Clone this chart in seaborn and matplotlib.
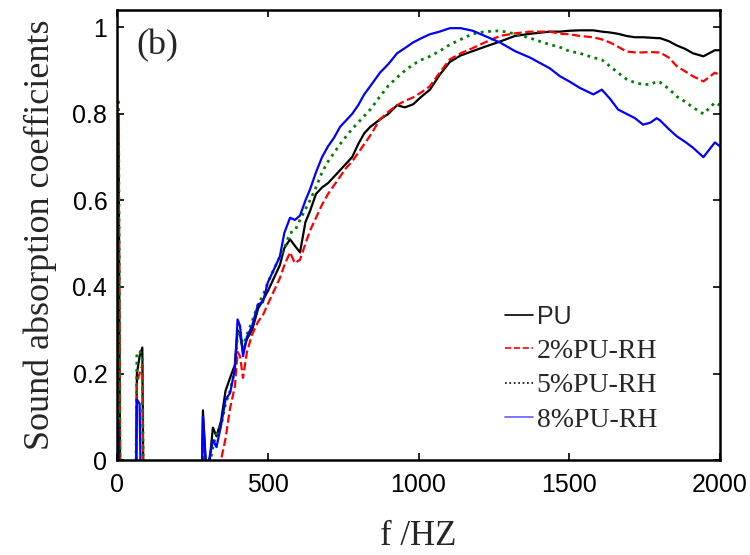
import pandas as pd
import seaborn as sns
import matplotlib.pyplot as plt
from matplotlib.lines import Line2D

# frequency grid (Hz) shared by all four samples
freq = [5, 12, 60, 66, 75, 84, 90, 275, 285, 298, 305, 318, 330, 345, 360, 375, 391,
        400, 408, 418, 431, 448, 468, 484, 500, 520, 540, 555, 574, 590, 607, 625,
        640, 660, 680, 700, 720, 740, 760, 780, 800, 820, 840, 872, 900, 929, 955,
        982, 1010, 1038, 1070, 1104, 1140, 1180, 1220, 1270, 1320, 1370, 1436, 1469,
        1500, 1535, 1580, 1608, 1635, 1662, 1690, 1718, 1745, 1770, 1790, 1801,
        1830, 1857, 1885, 1910, 1945, 1983, 2000]

pu = [0.80, -0.3, -0.3, 0.20, 0.24, 0.26, -0.3, -0.3, 0.115, -0.05, -0.02, 0.075, 0.055,
      0.09, 0.16, 0.19, 0.22, 0.30, 0.29, 0.25, 0.28, 0.30, 0.35, 0.37, 0.39, 0.42,
      0.45, 0.49, 0.51, 0.495, 0.48, 0.55, 0.575, 0.615, 0.63, 0.64, 0.655, 0.67,
      0.685, 0.70, 0.73, 0.755, 0.77, 0.787, 0.80, 0.82, 0.815, 0.822, 0.84, 0.856,
      0.89, 0.92, 0.935, 0.945, 0.955, 0.967, 0.98, 0.985, 0.99, 0.99, 0.992, 0.993,
      0.993, 0.99, 0.988, 0.985, 0.98, 0.977, 0.977, 0.976, 0.975, 0.975, 0.968,
      0.958, 0.95, 0.94, 0.933, 0.947, 0.947]

pu_rh2 = [0.78, -0.3, -0.3, 0.18, 0.20, 0.22, -0.3, -0.3, -0.1, -0.2, -0.2, -0.1, -0.05,
          0.0, 0.05, 0.12, 0.17, 0.25, 0.24, 0.19, 0.25, 0.29, 0.32, 0.335, 0.36, 0.39,
          0.42, 0.45, 0.48, 0.455, 0.463, 0.50, 0.53, 0.56, 0.59, 0.615, 0.635, 0.655,
          0.675, 0.69, 0.71, 0.73, 0.75, 0.787, 0.805, 0.82, 0.83, 0.838, 0.85, 0.864,
          0.895, 0.926, 0.94, 0.952, 0.965, 0.98, 0.986, 0.99, 0.99, 0.985, 0.984, 0.98,
          0.977, 0.972, 0.965, 0.955, 0.944, 0.942, 0.942, 0.943, 0.942, 0.942, 0.93,
          0.91, 0.898, 0.887, 0.875, 0.895, 0.89]

pu_rh5 = [0.83, -0.3, -0.3, 0.25, 0.25, 0.24, -0.3, -0.3, 0.03, -0.05, -0.02, 0.03, 0.06,
          0.08, 0.13, 0.16, 0.21, 0.29, 0.30, 0.26, 0.29, 0.32, 0.36, 0.38, 0.41, 0.44,
          0.47, 0.49, 0.525, 0.53, 0.555, 0.58, 0.60, 0.63, 0.665, 0.69, 0.71, 0.73,
          0.748, 0.765, 0.78, 0.795, 0.81, 0.84, 0.865, 0.884, 0.90, 0.914, 0.925, 0.933,
          0.945, 0.96, 0.972, 0.985, 0.99, 0.992, 0.985, 0.975, 0.96, 0.954, 0.945, 0.94,
          0.93, 0.925, 0.91, 0.895, 0.88, 0.872, 0.868, 0.868, 0.875, 0.873, 0.858,
          0.84, 0.828, 0.815, 0.80, 0.826, 0.82]

pu_rh8 = [0.09, -0.3, -0.3, 0.14, 0.13, -0.3, -0.3, -0.3, 0.10, -0.05, 0.0, 0.046, 0.03,
          0.08, 0.14, 0.155, 0.21, 0.325, 0.31, 0.24, 0.285, 0.31, 0.36, 0.365, 0.41,
          0.44, 0.47, 0.525, 0.56, 0.555, 0.565, 0.60, 0.625, 0.665, 0.70, 0.725, 0.745,
          0.77, 0.785, 0.80, 0.82, 0.845, 0.864, 0.895, 0.915, 0.94, 0.952, 0.965, 0.975,
          0.984, 0.99, 0.998, 0.998, 0.992, 0.98, 0.965, 0.945, 0.93, 0.905, 0.887,
          0.875, 0.86, 0.845, 0.856, 0.835, 0.81, 0.80, 0.79, 0.775, 0.78, 0.79, 0.785,
          0.765, 0.748, 0.735, 0.722, 0.70, 0.734, 0.725]

labels = ['PU', '2%PU-RH', '5%PU-RH', '8%PU-RH']
colors = ['black', 'red', 'green', 'blue']
styles = ['-', '--', ':', '-']

df = pd.DataFrame({'f': freq, 'PU': pu, '2%PU-RH': pu_rh2,
                   '5%PU-RH': pu_rh5, '8%PU-RH': pu_rh8})
long_df = df.melt(id_vars='f', var_name='sample', value_name='alpha')

sns.set_style('ticks')
plt.rcParams['font.family'] = ['Liberation Sans', 'DejaVu Sans']

fig = plt.figure(figsize=(7.5, 5.55), dpi=100)
ax = fig.add_axes([0.156, 0.171, 0.804, 0.811])

for lab, c, ls in zip(labels, colors, styles):
    sub = long_df[long_df['sample'] == lab]
    sns.lineplot(data=sub, x='f', y='alpha', ax=ax, color=c, linestyle=ls,
                 linewidth=1.6 if ls != ':' else 2.0, estimator=None, sort=False)

ax.set_xlim(0, 2000)
ax.set_ylim(0, 1.04)
ax.set_xticks([0, 500, 1000, 1500, 2000])
ax.set_yticks([0, 0.2, 0.4, 0.6, 0.8, 1.0])
ax.set_yticklabels(['0', '0.2', '0.4', '0.6', '0.8', '1'])
ax.tick_params(direction='in', length=5, width=1.2, top=True, right=True,
               labelsize=18, pad=7, colors='black')
ax.tick_params(axis='x', pad=9)
for sp in ax.spines.values():
    sp.set_linewidth(1.8)
    sp.set_color('black')

ax.set_xlabel('f /HZ', family='Liberation Serif', fontsize=25, labelpad=17)
ax.set_ylabel('Sound absorption coefficients', family='Liberation Serif',
              fontsize=26, labelpad=11)
ax.text(0.032, 0.958, '(b)', transform=ax.transAxes, family='Liberation Serif',
        fontsize=26, va='top', ha='left')

handles = [Line2D([], [], color='black', ls='-', lw=1.2),
           Line2D([], [], color='red', ls='--', lw=1.2),
           Line2D([], [], color='black', ls=':', lw=1.2),
           Line2D([], [], color='#6060ff', ls='-', lw=1.2)]
leg = ax.legend(handles, labels, frameon=False, loc='upper left',
                bbox_to_anchor=(0.643, 0.345), borderaxespad=0, borderpad=0,
                handlelength=1.0, handletextpad=0.15, labelspacing=0.33,
                prop={'family': 'Liberation Serif', 'size': 20})
leg.get_texts()[0].set_family('Liberation Sans')
leg.get_texts()[0].set_fontsize(18)

fig.savefig('out.png', dpi=100)
